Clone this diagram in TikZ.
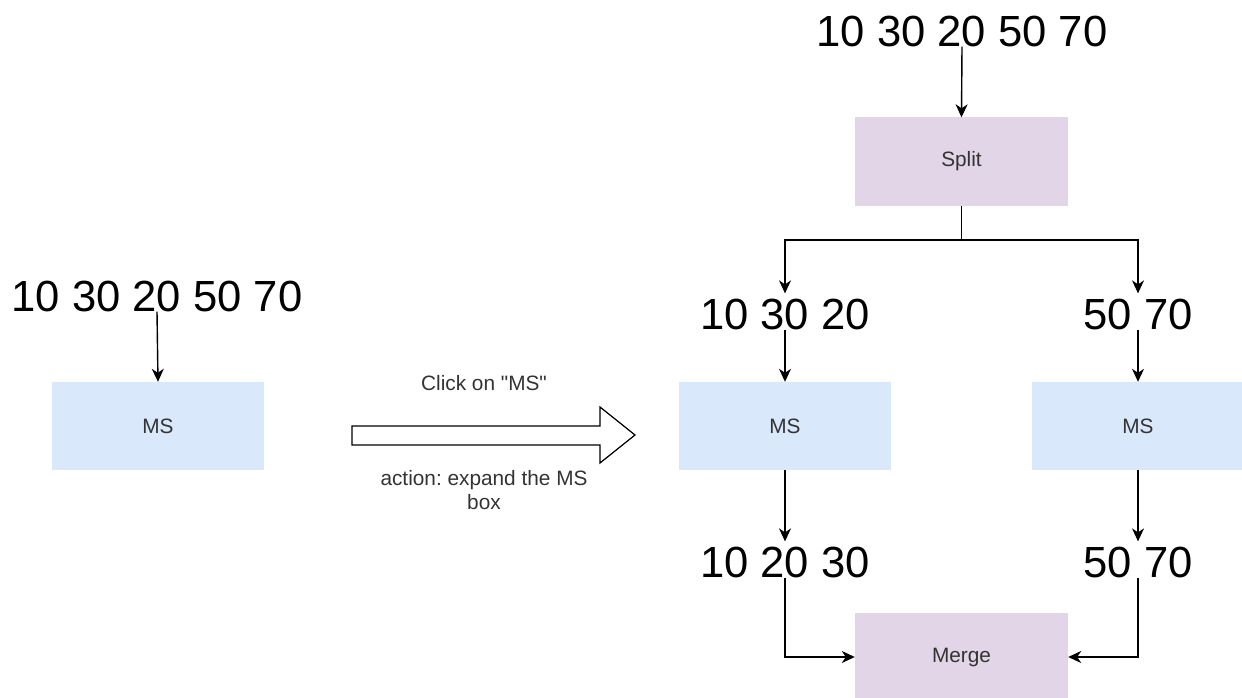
\documentclass[tikz,border=0pt]{standalone}
\usepackage{fontspec}
\setmainfont{Liberation Sans}
\usetikzlibrary{arrows.meta}
\definecolor{msblue}{HTML}{DAE8FC}
\definecolor{oppurple}{HTML}{E1D5E7}
\definecolor{smalltxt}{HTML}{333333}
\frenchspacing
\tikzset{
  bignum/.style={inner sep=0pt, font=\fontsize{43.6}{50}\selectfont, text=black},
  smalltext/.style={inner sep=0pt, font=\fontsize{20.8}{24}\selectfont, text=smalltxt},
  msbox/.style={fill=msblue, draw=none, minimum width=212pt, minimum height=88pt, inner sep=0pt, font=\fontsize{20.8}{24}\selectfont, text=smalltxt},
  opbox/.style={fill=oppurple, draw=none, minimum width=213pt, minimum height=88pt, inner sep=0pt, font=\fontsize{20.8}{24}\selectfont, text=smalltxt},
  conn/.style={line width=1.4pt, draw=black, -{Stealth[length=13pt,width=12pt,inset=4pt]}},
}
\begin{document}
\begin{tikzpicture}[x=1pt,y=-1pt]
\useasboundingbox (0,0) rectangle (1242,698);
% left part
\node[bignum] (t0) at (157,296) {10 30 20 50 70};
\node[msbox] (ms0) at (158,426) {MS};
\draw[conn] (t0.south) -- (ms0.north);
% block arrow
\draw[line width=1.2pt, draw=black, fill=white] (352,426) -- (600,426) -- (600,407) -- (635,435) -- (600,463) -- (600,445) -- (352,445) -- cycle;
\node[smalltext] (click) at (484,383) {Click on \textquotedbl MS\textquotedbl};
\node[smalltext, align=center] (action) at (484,490) {action: expand the MS\\box};
% right part
\node[bignum] (t1) at (962,31) {10 30 20 50 70};
\node[opbox] (split) at (961.5,161.5) {Split};
\draw[conn] (t1.south) -- (split.north);
\coordinate (fork) at (961.5,240);
\node[bignum] (t2a) at (785,314) {10 30 20};
\node[bignum] (t2b) at (1138,314) {50 70};
\draw[conn, shorten >=5pt] (split.south) -- (fork) -| (t2a.north);
\draw[conn, shorten >=5pt] (fork) -| (t2b.north);
\node[msbox] (ms1) at (785,426) {MS};
\node[msbox] (ms2) at (1138,426) {MS};
\draw[conn] (t2a.south) -- (ms1.north);
\draw[conn] (t2b.south) -- (ms2.north);
\node[bignum] (t3a) at (785,562) {10 20 30};
\node[bignum] (t3b) at (1138,562) {50 70};
\draw[conn, shorten >=5pt] (ms1.south) -- (t3a.north);
\draw[conn, shorten >=5pt] (ms2.south) -- (t3b.north);
\node[opbox] (merge) at (961.5,657) {Merge};
\draw[conn] (t3a.south) |- (merge.west);
\draw[conn] (t3b.south) |- (merge.east);
\end{tikzpicture}
\end{document}
